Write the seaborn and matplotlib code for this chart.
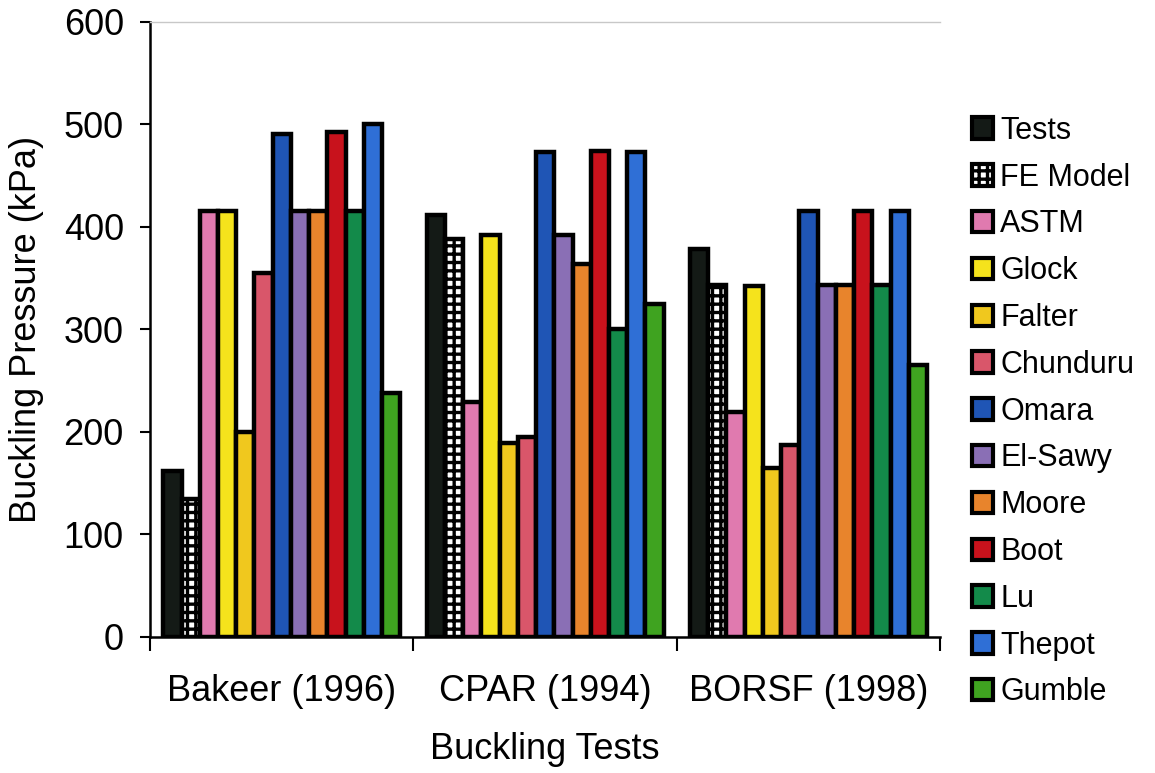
import matplotlib
matplotlib.use("Agg")
import matplotlib.pyplot as plt
import seaborn as sns
import pandas as pd
from matplotlib.patches import Patch

tests = ["Bakeer (1996)", "CPAR (1994)", "BORSF (1998)"]
methods = ["Tests", "FE Model", "ASTM", "Glock", "Falter", "Chunduru", "Omara",
           "El-Sawy", "Moore", "Boot", "Lu", "Thepot", "Gumble"]

tests_v    = [162, 411, 378]
fe_v       = [135, 388, 343]
astm_v     = [415, 229, 219]
glock_v    = [415, 392, 342]
falter_v   = [200, 189, 165]
chunduru_v = [355, 195, 187]
omara_v    = [490, 473, 415]
elsawy_v   = [415, 392, 343]
moore_v    = [415, 364, 343]
boot_v     = [492, 474, 415]
lu_v       = [415, 300, 343]
thepot_v   = [500, 473, 415]
gumble_v   = [238, 325, 265]

values = [tests_v, fe_v, astm_v, glock_v, falter_v, chunduru_v, omara_v,
          elsawy_v, moore_v, boot_v, lu_v, thepot_v, gumble_v]

colors = ["#141a16", "#ffffff", "#e07aaf", "#f5e31c", "#f0c81e", "#d9566a",
          "#1f55b5", "#8a6fb5", "#e8842c", "#c8121c", "#138a4a", "#2f6fd6", "#3fa320"]

rows = []
for m, vals in zip(methods, values):
    for t, v in zip(tests, vals):
        rows.append({"test": t, "method": m, "value": v})
df = pd.DataFrame(rows)

sns.set_theme(style="white")
plt.rcParams['font.family'] = ['Liberation Sans', 'DejaVu Sans']
plt.rcParams['hatch.linewidth'] = 2.4
plt.rcParams['text.color'] = 'black'
plt.rcParams['axes.labelcolor'] = 'black'
plt.rcParams['xtick.color'] = 'black'
plt.rcParams['ytick.color'] = 'black'

fig = plt.figure(figsize=(11.55, 7.73), dpi=100)
ax = fig.add_axes([0.130, 0.176, 0.684, 0.796])

sns.barplot(data=df, x="test", y="value", hue="method", hue_order=methods,
            order=tests, palette=colors, edgecolor="black", linewidth=3.2,
            width=0.9, saturation=1, ax=ax, legend=False)

for bar in ax.containers[1]:
    bar.set_hatch("++")

ax.set_ylim(0, 600)
ax.set_xlim(-0.5, 2.5)
ax.set_yticks(range(0, 601, 100))
ax.tick_params(axis="y", labelsize=26, direction="out", length=7, width=1.5, left=True, pad=12)
ax.tick_params(axis="x", labelsize=26, length=0, pad=27)
ax.set_xticks([-0.5, 0.5, 1.5, 2.5], minor=True)
ax.tick_params(axis="x", which="minor", direction="out", length=10, width=1.5, bottom=True)

ax.spines["right"].set_visible(False)
ax.spines["top"].set_color("#c8c8c8")
ax.spines["top"].set_linewidth(1.0)
for s in ["left", "bottom"]:
    ax.spines[s].set_color("black")
    ax.spines[s].set_linewidth(1.8)

ax.set_xlabel("Buckling Tests", fontsize=26, labelpad=16)
ax.set_ylabel("Buckling Pressure (kPa)", fontsize=26)
ax.yaxis.set_label_coords(-0.134, 0.5)

handles = []
for m, c in zip(methods, colors):
    if m == "FE Model":
        handles.append(Patch(facecolor="white", edgecolor="black", hatch="++", linewidth=3, label=m))
    else:
        handles.append(Patch(facecolor=c, edgecolor="black", linewidth=3, label=m))

fig.legend(handles=handles, loc="upper left", bbox_to_anchor=(0.831, 0.866),
           frameon=False, fontsize=22, handlelength=0.7, handleheight=0.7,
           handletextpad=0.22, labelspacing=0.55, borderaxespad=0)

fig.savefig("out.png", dpi=100)
